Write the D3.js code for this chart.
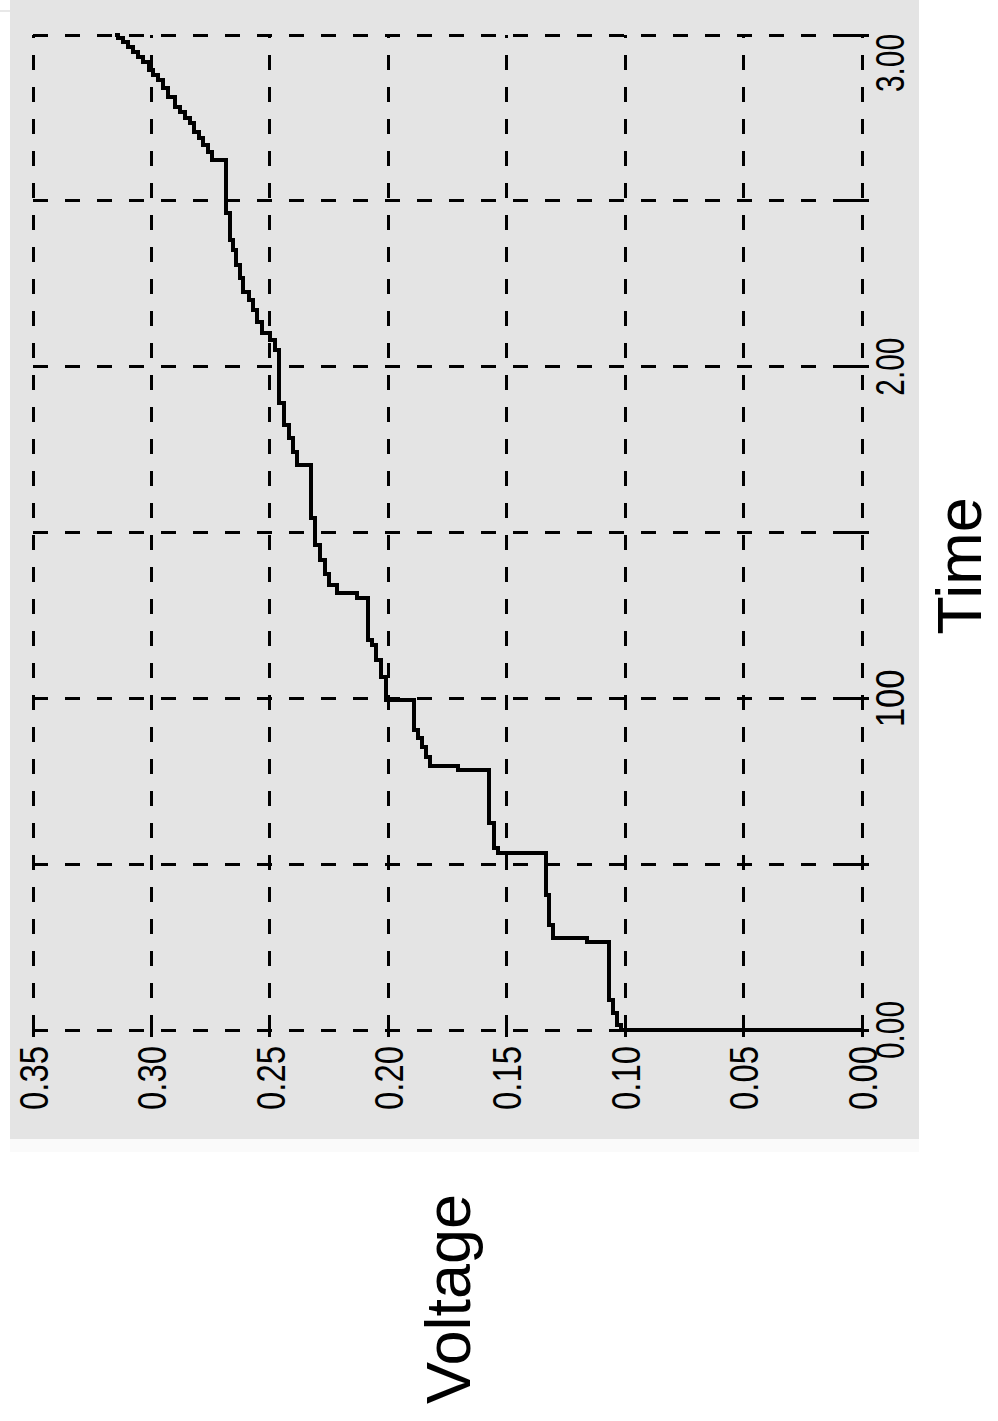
<!DOCTYPE html>
<html>
<head>
<meta charset="utf-8">
<script src="https://cdn.jsdelivr.net/npm/d3@7"></script>
<style>
  body { margin: 0; background: #fff; }
  svg { display: block; }
</style>
</head>
<body>
<svg id="canvas" width="998" height="1421"></svg>
<script>
// step data: time at which the voltage changes, and the new voltage
let times = [0, 0, 1.5, 5.1, 9.0, 26.5, 27.7, 31.7, 40.7, 53.4, 54.9, 62.4, 78.4, 79.6, 82.3, 85.3, 88.0, 90.5,
  99.5, 106.4, 111.6, 116.1, 117.6, 130.3, 131.8, 134.2, 137.5, 141.7, 146.2, 154.4, 170.4, 174.3, 178.5, 182.4,
  189.0, 205.0, 208.0, 210.1, 213.5, 217.1, 220.1, 222.5, 226.7, 230.7, 235.2, 238.2, 246.3, 262.3, 264.7, 266.8,
  268.9, 270.7, 273.5, 275.0, 276.8, 278.3, 281.3, 284.0, 286.4, 287.9, 289.4, 291.9, 293.4, 294.9, 296.4, 297.9,
  299.1, 300]
let volts = [0, 0.1017, 0.1034, 0.1051, 0.1068, 0.1161, 0.1305, 0.1321, 0.1334, 0.1537, 0.1554, 0.1575, 0.1706, 0.1824,
  0.1841, 0.1858, 0.1875, 0.1891, 0.2010, 0.2031, 0.2052, 0.2069, 0.2086, 0.2132, 0.2216, 0.2250, 0.2267, 0.2288,
  0.2309, 0.2326, 0.2385, 0.2402, 0.2419, 0.2440, 0.2461, 0.2478, 0.2499, 0.2533, 0.2554, 0.2571, 0.2588, 0.2613,
  0.2626, 0.2643, 0.2656, 0.2668, 0.2685, 0.2744, 0.2761, 0.2782, 0.2799, 0.2820, 0.2837, 0.2858, 0.2879, 0.2900,
  0.2930, 0.2951, 0.2972, 0.2993, 0.3010, 0.3036, 0.3057, 0.3078, 0.3099, 0.3120, 0.3141, 0.3154]

let voltTicks = [0, 0.05, 0.10, 0.15, 0.20, 0.25, 0.30, 0.35]
let voltLabels = ['0.00', '0.05', '0.10', '0.15', '0.20', '0.25', '0.30', '0.35']
let timeTicks = [0, 100, 200, 300]
let timeLabels = ['0.00', '100', '2.00', '3.00']
let timeGrid = [0, 50, 100, 150, 200, 250, 300]

let canvas = d3.select('#canvas')

let width = 995, height = 829

// grey panel
canvas.append('rect').attr('x', 10).attr('y', 0).attr('width', 909).attr('height', 1139).attr('fill', '#e4e4e4')
canvas.append('rect').attr('x', 10).attr('y', 1139).attr('width', 909).attr('height', 13).attr('fill', '#fafafa')
canvas.append('rect').attr('x', 0).attr('y', 10).attr('width', 10).attr('height', 2).attr('fill', '#e8e8e8')

// chart is drawn time-along-x then turned a quarter turn
let g = canvas.append('g').attr('transform', 'translate(33,1030) rotate(-90)')

let xT = d3.scaleLinear().domain([0, 300]).range([0, width])
let yV = d3.scaleLinear().domain([0, 0.35]).range([height, 0])

// grid
g.selectAll('.vgrid').data(voltTicks).enter().append('line')
  .attr('x1', 0).attr('x2', width)
  .attr('y1', d => yV(d)).attr('y2', d => yV(d))
  .attr('stroke', '#000').attr('stroke-width', 3).attr('stroke-dasharray', '15,17')
  .attr('shape-rendering', 'crispEdges')

g.selectAll('.tgrid').data(timeGrid).enter().append('line')
  .attr('x1', d => xT(d)).attr('x2', d => xT(d))
  .attr('y1', 0).attr('y2', height)
  .attr('stroke', '#000').attr('stroke-width', 3).attr('stroke-dasharray', '15,17')
  .attr('shape-rendering', 'crispEdges')

// tick marks crossing the axes
g.selectAll('.vtick').data(voltTicks).enter().append('line')
  .attr('x1', -7).attr('x2', 5)
  .attr('y1', d => yV(d)).attr('y2', d => yV(d))
  .attr('stroke', '#000').attr('stroke-width', 3).attr('shape-rendering', 'crispEdges')

g.selectAll('.ttick').data(timeGrid).enter().append('line')
  .attr('x1', d => xT(d)).attr('x2', d => xT(d))
  .attr('y1', height - 15).attr('y2', height + 7)
  .attr('stroke', '#000').attr('stroke-width', 3).attr('shape-rendering', 'crispEdges')

// tick labels
g.selectAll('.vlab').data(voltTicks).enter().append('text')
  .attr('x', -16).attr('y', d => yV(d)).attr('dy', '0.36em')
  .attr('text-anchor', 'end')
  .attr('font-family', 'Liberation Sans, Arial, sans-serif').attr('font-size', 41)
  .attr('textLength', 64).attr('lengthAdjust', 'spacingAndGlyphs')
  .text((d, i) => voltLabels[i])

g.selectAll('.tlab').data(timeTicks).enter().append('text')
  .attr('x', d => Math.min(xT(d), width - 28)).attr('y', height + 12).attr('dy', '0.72em')
  .attr('text-anchor', 'middle')
  .attr('font-family', 'Liberation Sans, Arial, sans-serif').attr('font-size', 41)
  .attr('textLength', 58).attr('lengthAdjust', 'spacingAndGlyphs')
  .text((d, i) => timeLabels[i])

// the trace
let data = times.map((t, i) => ({ t: t, v: volts[i] }))
let line = d3.line().x(d => xT(d.t)).y(d => yV(d.v)).curve(d3.curveStepAfter)
g.append('path').datum(data)
  .attr('d', line)
  .attr('fill', 'none').attr('stroke', '#000').attr('stroke-width', 4)
  .attr('shape-rendering', 'crispEdges')

// axis titles
canvas.append('text')
  .attr('transform', 'translate(470,1299) rotate(-90)')
  .attr('text-anchor', 'middle')
  .attr('font-family', 'Liberation Sans, Arial, sans-serif').attr('font-size', 63)
  .text('Voltage')

canvas.append('text')
  .attr('transform', 'translate(981,566) rotate(-90)')
  .attr('text-anchor', 'middle')
  .attr('font-family', 'Liberation Sans, Arial, sans-serif').attr('font-size', 63)
  .text('Time')
</script>
</body>
</html>
